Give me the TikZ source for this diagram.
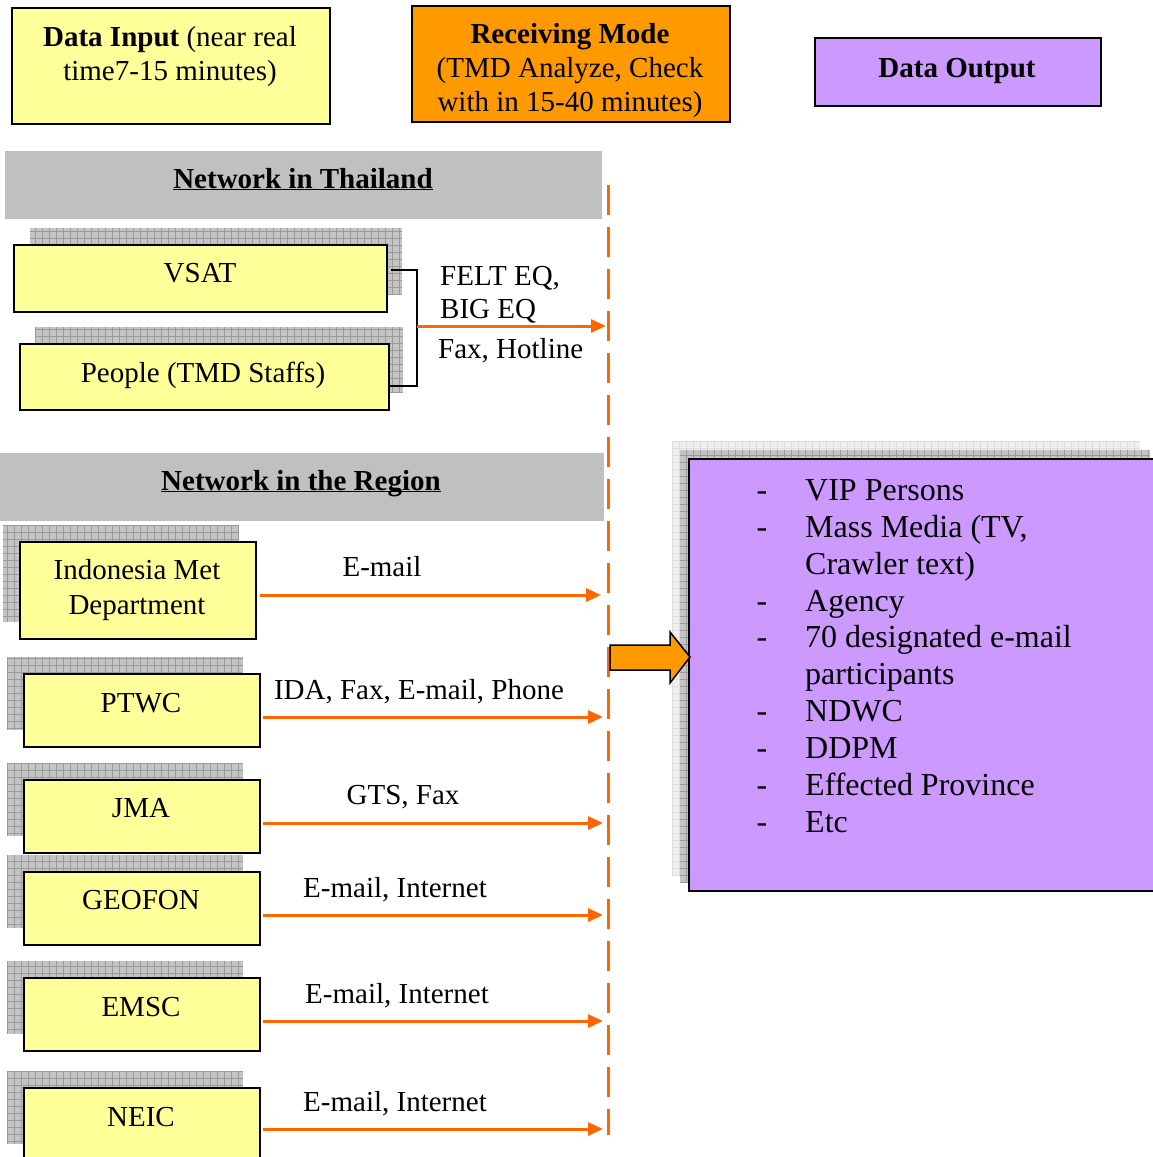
\documentclass[tikz,border=0pt]{standalone}
\usepackage{fontspec}
\setmainfont{Liberation Serif}
\usetikzlibrary{arrows.meta}
\definecolor{inyellow}{HTML}{FFFF99}
\definecolor{rcvorange}{HTML}{FF9900}
\definecolor{outpurple}{HTML}{CC99FF}
\definecolor{hdrgray}{HTML}{C0C0C0}
\definecolor{shadefill}{HTML}{C4C4C4}
\definecolor{shadeline}{HTML}{9A9A9A}
\definecolor{lightshade}{HTML}{EFEFEF}
\definecolor{lightline}{HTML}{DDDDDD}
\definecolor{linkorange}{HTML}{FF6600}
\newcommand\hatchbox[2]{\fill[shadefill] #1 rectangle #2; \draw[shadeline, line width=0.5pt, step=7pt] #1 grid #2;}
\tikzset{
  boxbase/.style={draw=black, line width=1.8pt, anchor=north west, inner sep=0pt},
  ybox/.style={boxbase, fill=inyellow},
  obox/.style={boxbase, fill=rcvorange},
  pbox/.style={boxbase, fill=outpurple},
  hdr/.style={fill=hdrgray, anchor=north west, inner sep=0pt},
  txt/.style={anchor=base, inner sep=0pt},
  txtw/.style={anchor=base west, inner sep=0pt},
  listtxt/.style={anchor=base west, inner sep=0pt, font=\fontsize{32}{37}\selectfont},
  linkarrow/.style={draw=linkorange, line width=3pt, -{Triangle[length=15pt,width=13pt]}},
  bracket/.style={draw=black, line width=1.6pt},
  divider/.style={draw=linkorange, line width=3pt, dash pattern=on 30pt off 12pt},
}
\begin{document}
\begin{tikzpicture}[x=1pt,y=-1pt,font=\fontsize{29}{34}\selectfont]
\useasboundingbox (0,0) rectangle (1153,1157);

% top legend boxes
\node[ybox, minimum width=318, minimum height=116] (inbox) at (11,7) {};
\node[txt] (inT1) at (170,46) {\textbf{Data Input} (near real};
\node[txt] (inT2) at (170,80) {time7-15 minutes)};
\node[obox, minimum width=318, minimum height=116] (rcvbox) at (411,5) {};
\node[txt] (rcT1) at (570,43) {\textbf{Receiving Mode}};
\node[txt] (rcT2) at (570,77) {(TMD Analyze, Check};
\node[txt] (rcT3) at (570,111) {with in 15-40 minutes)};
\node[pbox, minimum width=286, minimum height=68] (outlegend) at (814,37) {};
\node[txt] (outT) at (957,77) {\textbf{Data Output}};

% divider
\coordinate (dtop) at (608,185);
\coordinate (dbot) at (608,1135);
\draw[divider] (dtop) -- (dbot);

% Thailand
\node[hdr, minimum width=597, minimum height=68] (thai) at (5,151) {};
\node[txt] (thaiT) at (303,188) {\underline{\smash{\textbf{Network in Thailand}}}};
\hatchbox{(30,228)}{(402,295)}
\node[ybox, minimum width=373, minimum height=67] (vsat) at (13,244) {};
\node[txt] (vsatT) at (200,282) {VSAT};
\hatchbox{(35,327)}{(403,393)}
\node[ybox, minimum width=369, minimum height=66] (people) at (19,343) {};
\node[txt] (peopleT) at (203,382) {People (TMD Staffs)};
\coordinate (br) at (417,326);
\coordinate (e0) at (606,326);
\draw[bracket] ([xshift=3pt,yshift=8.5pt]vsat.east) -| (br) |- ([yshift=-9pt]people.east);
\draw[linkarrow] (br) -- (e0);
\node[txtw] (l0a) at (440,285) {FELT EQ,};
\node[txtw] (l0b) at (440,318) {BIG EQ};
\node[txtw] (l0c) at (438,358) {Fax, Hotline};

% Region
\node[hdr, minimum width=604, minimum height=68] (region) at (0,453) {};
\node[txt] (regionT) at (301,490) {\underline{\smash{\textbf{Network in the Region}}}};

\hatchbox{(3,525)}{(239,622)}
\node[ybox, minimum width=236, minimum height=97] (indo) at (19,541) {};
\node[txt] (indoT1) at (137,579) {Indonesia Met};
\node[txt] (indoT2) at (137,614) {Department};
\coordinate (e1) at (601,595);
\draw[linkarrow] ([xshift=3pt]indo.east |- e1) -- (e1);
\node[txt] (l1) at (382,576) {E-mail};

\hatchbox{(7,657)}{(243,730)}
\node[ybox, minimum width=236, minimum height=73] (ptwc) at (23,673) {};
\node[txt] (ptwcT) at (141,712) {PTWC};
\coordinate (e2) at (603,717);
\draw[linkarrow] ([xshift=2pt]ptwc.east |- e2) -- (e2);
\node[txt] (l2) at (419,699) {IDA, Fax, E-mail, Phone};

\hatchbox{(7,763)}{(243,836)}
\node[ybox, minimum width=236, minimum height=73] (jma) at (23,779) {};
\node[txt] (jmaT) at (141,817) {JMA};
\coordinate (e3) at (603,823);
\draw[linkarrow] ([xshift=2pt]jma.east |- e3) -- (e3);
\node[txt] (l3) at (403,804) {GTS, Fax};

\hatchbox{(7,855)}{(243,928)}
\node[ybox, minimum width=236, minimum height=73] (geofon) at (23,871) {};
\node[txt] (geofonT) at (141,909) {GEOFON};
\coordinate (e4) at (603,915);
\draw[linkarrow] ([xshift=2pt]geofon.east |- e4) -- (e4);
\node[txt] (l4) at (395,897) {E-mail, Internet};

\hatchbox{(7,961)}{(243,1034)}
\node[ybox, minimum width=236, minimum height=73] (emsc) at (23,977) {};
\node[txt] (emscT) at (141,1016) {EMSC};
\coordinate (e5) at (603,1021);
\draw[linkarrow] ([xshift=2pt]emsc.east |- e5) -- (e5);
\node[txt] (l5) at (397,1003) {E-mail, Internet};

\hatchbox{(7,1071)}{(243,1144)}
\node[ybox, minimum width=236, minimum height=100] (neic) at (23,1087) {};
\node[txt] (neicT) at (141,1126) {NEIC};
\coordinate (e6) at (603,1129);
\draw[linkarrow] ([xshift=2pt]neic.east |- e6) -- (e6);
\node[txt] (l6) at (395,1111) {E-mail, Internet};

% output box
\fill[lightshade] (672,441) rectangle (1140,875);
\draw[lightline, line width=0.5pt, step=7pt] (672,441) grid (1140,875);
\hatchbox{(680,450)}{(1150,882)}
\node[pbox, minimum width=480, minimum height=432] (outbox) at (688,458) {};

% big arrow
\draw[fill=rcvorange, draw=black, line width=1.5pt]
  (610,645) -- (670,645) -- (670,632) -- (690,657) -- (670,683) -- (670,670) -- (610,670) -- cycle;

% list
\foreach \yy/\tt [count=\i] in {500/{VIP Persons}, 537/{Mass Media (TV,}, 611/{Agency}, 647/{70 designated e-mail}, 721/{NDWC}, 758/{DDPM}, 795/{Effected Province}, 832/{Etc}}{
  \node[listtxt, anchor=base] (dash\i) at (762,\yy) {-};
  \node[listtxt] (item\i) at (805,\yy) {\tt};
}
\node[listtxt] (item2b) at (805,574) {Crawler text)};
\node[listtxt] (item4b) at (805,684) {participants};
\end{tikzpicture}
\end{document}
